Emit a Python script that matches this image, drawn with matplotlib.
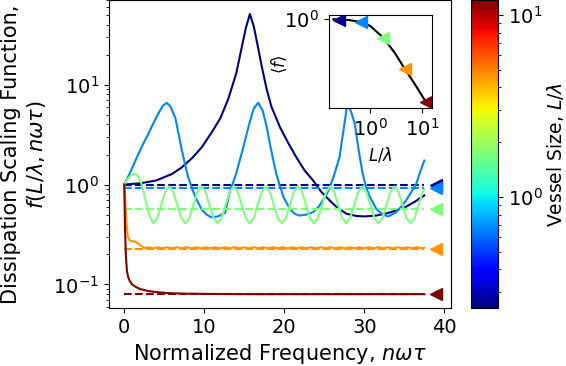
import numpy as np
import matplotlib
matplotlib.use("Agg")
import matplotlib.pyplot as plt
from matplotlib.colors import LogNorm
import matplotlib.cm as cm
from matplotlib.ticker import NullLocator, NullFormatter

# ---- data ----
vessel_sizes = [0.25, 0.66, 1.74, 4.6, 12.0]       # L/lambda for each curve
mean_f = [0.99, 0.92, 0.574, 0.224, 0.080]          # <f> for each curve (dashed lines)

x_navy = [0, 2, 4, 6, 7.2, 8.5, 9.7, 11.0, 12.0, 13.0, 14.0, 14.7, 15.2, 15.7,
          16.2, 16.7, 17.2, 17.8, 18.4, 19.5, 20.5, 21.5, 22.5, 23.6, 24.6, 25.7,
          26.7, 27.8, 29.0, 30.0, 31.5, 33.0, 34.2, 35.2, 36.4, 37.5]
f_navy = [1.0, 1.03, 1.1, 1.28, 1.49, 1.85, 2.37, 3.4, 4.6, 7.2, 13.0, 24.0, 37.0, 51.0,
          38.0, 24.0, 15.0, 9.0, 6.0, 3.7, 2.6, 1.88, 1.4, 1.1, 0.85, 0.69,
          0.58, 0.51, 0.485, 0.48, 0.49, 0.52, 0.56, 0.6, 0.68, 0.78]

x_blue = [0, 0.7, 1.4, 2.2, 3.0, 3.7, 4.3, 4.8, 5.3, 5.8, 6.4, 6.8, 7.2, 7.6, 8.0, 8.5,
          9.0, 9.7, 10.3, 10.9, 11.7, 12.6, 13.2, 14.0, 14.9, 15.6, 16.2, 16.75, 17.3,
          17.8, 18.2, 18.6, 19.0, 19.5, 19.9, 20.7, 21.3, 21.9, 22.7, 23.6, 24.3, 24.8,
          25.3, 25.7, 26.3, 26.9, 27.4, 27.9, 28.4, 28.8, 29.3, 29.8, 30.2, 30.7, 31.5,
          32.3, 33.0, 34.0, 34.6, 35.2, 35.9, 36.5, 37.0, 37.5]
f_blue = [1.0, 1.3, 1.74, 2.4, 3.2, 4.2, 5.2, 6.1, 6.6, 6.0, 4.6, 3.2, 2.2, 1.6, 1.18, 0.9,
          0.72, 0.56, 0.5, 0.47, 0.48, 0.52, 0.85, 1.3, 2.4, 4.0, 5.8, 6.6, 5.5,
          3.8, 2.56, 1.8, 1.28, 0.95, 0.75, 0.57, 0.51, 0.49, 0.5, 0.53, 0.6, 0.69,
          0.8, 0.94, 1.3, 1.88, 3.5, 6.6, 5.2, 4.1, 2.2, 1.28, 0.95, 0.75, 0.57,
          0.5, 0.48, 0.53, 0.6, 0.69, 0.85, 1.02, 1.35, 1.74]

x_green = [0, 0.4, 0.8, 1.2, 1.6, 2.1, 2.6, 3.1, 3.62,
           4.12, 4.62, 5.12, 5.63, 6.13, 6.63, 7.13, 7.64,
           8.14, 8.64, 9.14, 9.65, 10.15, 10.65, 11.15, 11.66,
           12.16, 12.66, 13.16, 13.67, 14.17, 14.67, 15.17, 15.68,
           16.18, 16.68, 17.18, 17.69, 18.19, 18.69, 19.19, 19.70,
           20.20, 20.70, 21.20, 21.71, 22.21, 22.71, 23.21, 23.72,
           24.22, 24.72, 25.22, 25.73, 26.23, 26.73, 27.23, 27.74,
           28.24, 28.74, 29.24, 29.75, 30.25, 30.75, 31.25, 31.76,
           32.26, 32.76, 33.26, 33.77, 34.27, 34.77, 35.27, 35.78,
           36.28, 36.78, 37.28, 37.5]
f_green = [1.0, 1.13, 1.23, 1.28, 1.26, 1.05, 0.74, 0.5, 0.41,
           0.46, 0.62, 0.84, 0.96, 0.85, 0.63, 0.465, 0.41,
           0.46, 0.62, 0.84, 0.96, 0.85, 0.63, 0.465, 0.41,
           0.46, 0.62, 0.84, 0.96, 0.85, 0.63, 0.465, 0.41,
           0.46, 0.62, 0.84, 0.96, 0.85, 0.63, 0.465, 0.41,
           0.46, 0.62, 0.84, 0.96, 0.85, 0.63, 0.465, 0.41,
           0.46, 0.62, 0.84, 0.96, 0.85, 0.63, 0.465, 0.41,
           0.46, 0.62, 0.84, 0.96, 0.85, 0.63, 0.465, 0.41,
           0.46, 0.62, 0.84, 0.96, 0.85, 0.63, 0.465, 0.41,
           0.46, 0.62, 0.84, 0.9]

x_orange = [0, 0.1, 0.2, 0.3, 0.45, 0.7, 1.0, 1.4, 1.8, 2.2, 2.6,
            3.0, 3.6, 4.2, 4.8, 5.4, 6.0, 6.6, 7.2, 7.8, 8.4, 9.0, 9.6, 10.2, 10.8,
            11.4, 12.0, 12.6, 13.2, 13.8, 14.4, 15.0, 15.6, 16.2, 16.8, 17.4, 18.0,
            18.6, 19.2, 19.8, 20.4, 21.0, 21.6, 22.2, 22.8, 23.4, 24.0, 24.6, 25.2,
            25.8, 26.4, 27.0, 27.6, 28.2, 28.8, 29.4, 30.0, 30.6, 31.2, 31.8, 32.4,
            33.0, 33.6, 34.2, 34.8, 35.4, 36.0, 36.6, 37.2, 37.5]
f_orange = [1.0, 0.75, 0.55, 0.4, 0.3, 0.275, 0.27, 0.268, 0.255, 0.24, 0.232,
            0.236, 0.23, 0.236, 0.23, 0.236, 0.23, 0.236, 0.23, 0.236, 0.23, 0.236, 0.23, 0.236, 0.23,
            0.236, 0.23, 0.236, 0.23, 0.236, 0.23, 0.236, 0.23, 0.236, 0.23, 0.236, 0.23,
            0.236, 0.23, 0.236, 0.23, 0.236, 0.23, 0.236, 0.23, 0.236, 0.23, 0.236, 0.23,
            0.236, 0.23, 0.236, 0.23, 0.236, 0.23, 0.236, 0.23, 0.236, 0.23, 0.236, 0.23,
            0.236, 0.23, 0.236, 0.23, 0.236, 0.23, 0.236, 0.23, 0.233]

x_red = [0, 0.05, 0.1, 0.2, 0.33, 0.5, 0.7, 1.0, 1.5, 2.0, 3.0, 4.0, 5.5, 7.5, 10.0, 15.0, 37.5]
f_red = [1.0, 0.6, 0.35, 0.2, 0.137, 0.118, 0.108, 0.1, 0.094, 0.09, 0.086, 0.084, 0.082,
         0.081, 0.0805, 0.080, 0.080]

# inset: mean dissipation vs vessel size
inset_L = [0.2, 0.25, 0.4, 0.66, 1.0, 1.74, 3.0, 4.6, 7.0, 12.0, 12.5]
inset_f = [1.0, 0.995, 0.975, 0.92, 0.82, 0.585, 0.36, 0.224, 0.145, 0.080, 0.077]

x_curves = [x_navy, x_blue, x_green, x_orange, x_red]
f_curves = [f_navy, f_blue, f_green, f_orange, f_red]

# ---- plotting ----
plt.rcParams['font.family'] = ['DejaVu Sans']
plt.rcParams['mathtext.fontset'] = 'dejavusans'

fig = plt.figure(figsize=(5.66, 3.66), dpi=100)
ax = fig.add_axes([0.192, 0.158, 0.605, 0.842])

cmap = plt.get_cmap('jet')
norm = LogNorm(vmin=0.245, vmax=12.1)
colors = [cmap(norm(v)) for v in vessel_sizes]

x_end = 37.5
x_marker = 38.9
for xs, fs, c, m in zip(x_curves, f_curves, colors, mean_f):
    ax.plot(xs, fs, color=c, lw=1.5)
    ax.plot([0, x_end], [m, m], color=c, lw=1.5, ls='--')
    ax.plot([x_marker], [m], marker='<', color=c, ms=8, ls='none', clip_on=False)

ax.set_yscale('log')
ax.set_xticks([0, 10, 20, 30, 40])
ax.tick_params(labelsize=14)
ax.set_xlabel(r'Normalized Frequency, $n\omega\tau$', fontsize=15)
ax.set_ylabel('Dissipation Scaling Function,\n' + r'$f(L/\lambda, n\omega\tau)$', fontsize=15)

# colorbar
cax = fig.add_axes([0.832, 0.158, 0.048, 0.842])
sm = cm.ScalarMappable(norm=norm, cmap=cmap)
cb = fig.colorbar(sm, cax=cax)
cb.ax.tick_params(labelsize=14)
cb.set_label(r'Vessel Size, $L/\lambda$', fontsize=13.5, labelpad=2)

# inset
iax = fig.add_axes([0.581, 0.705, 0.182, 0.254])
iax.plot(inset_L, inset_f, color='black', lw=1.5)
for v, m, c in zip(vessel_sizes, mean_f, colors):
    iax.plot([v], [m], marker='<', color=c, ms=8, ls='none')
iax.set_xscale('log')
iax.set_yscale('log')
iax.set_yticks([1.0])
iax.yaxis.set_minor_locator(NullLocator())
iax.yaxis.set_minor_formatter(NullFormatter())
iax.xaxis.set_minor_locator(NullLocator())
iax.set_xticks([1.0, 10.0])
iax.tick_params(labelsize=14)
iax.set_xlabel(r'$L/\lambda$', fontsize=12)
iax.set_ylabel(r'$\langle f\rangle$', fontsize=12)
iax.yaxis.set_label_coords(-0.39, 0.47)

fig.savefig('out.png', dpi=100)
